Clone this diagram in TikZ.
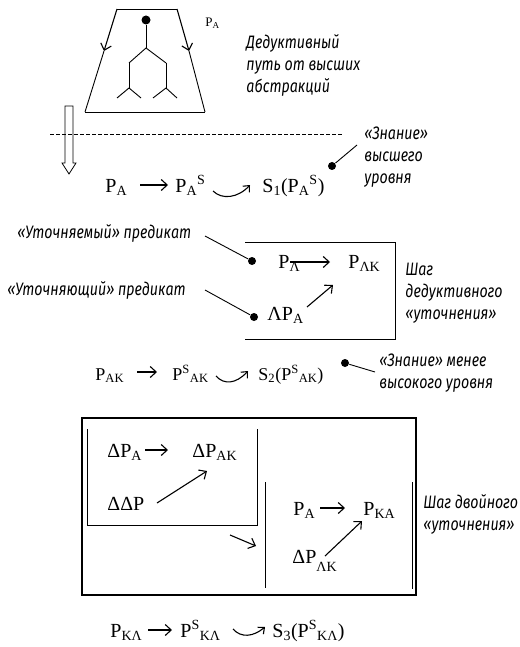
\documentclass[tikz,border=0pt]{standalone}
\usepackage{fontspec}
\setmainfont{Liberation Serif}
\newfontfamily\lblfont[FakeStretch=0.79]{Fira Sans}
\usetikzlibrary{arrows.meta,positioning,calc}
\newcommand{\subx}[1]{\textsubscript{#1}}
\newcommand{\subd}[1]{\raisebox{-5pt}{\textsubscript{#1}}}
\newcommand{\supx}[1]{\textsuperscript{#1}}
\tikzset{
  frm/.style={font=\fontsize{20}{24}\selectfont, inner sep=0pt, anchor=base west},
  frmsm/.style={frm, font=\fontsize{18}{22}\selectfont},
  lbl/.style={font=\lblfont\itshape\fontsize{18}{22}\selectfont, align=left, inner sep=0pt},
  fwd/.style={-{Straight Barb[length=6pt,width=11pt]}, line width=1.1pt},
  curv/.style={-{Straight Barb[length=5pt,width=9pt]}, line width=1.1pt},
  pin/.style={circle, fill, inner sep=0pt, minimum size=8pt},
}

\begin{document}
\begin{tikzpicture}[x=1pt, y=-1pt, line width=0.9pt]
\useasboundingbox (0,0) rectangle (519,647);

% top trapezoid with the tree of abstractions
\draw (117,9) -- (177,9);
\draw (85,112) -- (205,112);
\draw[fwd] (117,9) -- (104,51);
\draw (104,51) -- (85,112);
\draw[fwd] (177,9) -- (189,51);
\draw (189,51) -- (205,112);
\node[pin, minimum size=9pt] (root) at (146,20) {};
\coordinate (fork) at (146,48);
\coordinate (brL) at (129,63); \coordinate (lfL) at (129,88);
\coordinate (brR) at (166,63); \coordinate (lfR) at (166,88);
\draw (root) -- (fork);
\draw (brL) -- (fork) -- (brR);
\draw (brL) -- (lfL) (brR) -- (lfR);
\draw (117,98) -- (lfL) -- (141,98);
\draw (153,98) -- (lfR) -- (177,98);
\node[frm, font=\fontsize{13}{15}\selectfont] (ptop) at (205,27) {P\subx{A}};
\node[lbl, anchor=north west] (ded) at (246,34) {Дедуктивный\\путь от высших\\абстракций};

% hollow arrow and level line
\draw[line width=0.8pt] (65,106) -- (73,106) -- (73,163) -- (76,163) -- (69,174) -- (62,163) -- (65,163) -- cycle;
\draw[dash pattern=on 4pt off 2pt, line width=0.8pt] (50,134) -- (342,134);

% row 1
\node[frm] (pa1) at (105,192) {P\subx{A}};
\node[frm] (pas1) at (175,192) {P\subx{A}\supx{S}};
\node[frm] (s1) at (262,192) {S\subx{1}(P\subx{A}\supx{S})};
\draw[fwd] ([shift={(35pt,7pt)}]pa1.base west) -- ([shift={(-7pt,7pt)}]pas1.base west);
\coordinate (c1a) at (213,191); \coordinate (c1b) at (250,185);
\draw[curv] (c1a) .. controls (222,200) and (238,198) .. (c1b);
\node[pin] (d1) at (332,166) {};
\coordinate (d1e) at (357,145);
\draw (d1) -- (d1e);
\node[lbl, anchor=north west] (kn1) at (364,126) {«Знание»\\высшего\\уровня};

% step of deductive refinement
\node[lbl, anchor=west] (ut1) at (17,233) {«Уточняемый» предикат};
\node[lbl, anchor=west] (ut2) at (7,290) {«Уточняющий» предикат};
\node[pin] (d2) at (252,261) {};
\node[pin] (d3) at (254,317) {};
\coordinate (u1s) at (205,236); \coordinate (u2s) at (205,290);
\draw (u1s) -- (d2);
\draw (u2s) -- (d3);
\draw (245,242) -- (395,242) -- (395,339) -- (245,339);
\node[frm] (pl) at (278,268) {P\subx{Λ}};
\node[frm] (plk) at (348,268) {P\subx{ΛK}};
\node[frm] (dlp) at (267,320) {ΛP\subx{A}};
\draw[fwd] ([shift={(12pt,6pt)}]pl.base west) -- ([shift={(-18pt,6pt)}]plk.base west);
\draw[fwd] ([shift={(40pt,13pt)}]dlp.base west) -- ([shift={(-15pt,-17pt)}]plk.base west);
\node[lbl, anchor=north west] (sh1) at (405,263) {Шаг\\дедуктивного\\«уточнения»};

% row 2
\node[frmsm] (pak) at (95,380) {P\subx{AK}};
\node[frmsm] (pask) at (172,380) {P\supx{S}\subx{AK}};
\node[frmsm] (s2) at (258,380) {S\subx{2}(P\supx{S}\subx{AK})};
\draw[fwd] ([shift={(42pt,8pt)}]pak.base west) -- ([shift={(-15pt,8pt)}]pask.base west);
\coordinate (c2a) at (216,376); \coordinate (c2b) at (248,371);
\draw[curv] (c2a) .. controls (224,385) and (236,384) .. (c2b);
\node[pin] (d4) at (345,363) {};
\coordinate (d4e) at (375,372);
\draw (d4) -- (d4e);
\node[lbl, anchor=north west] (kn2) at (379,353) {«Знание» менее\\высокого уровня};

% step of double refinement
\draw[line width=2.4pt] (82,418) rectangle (416,595);
\draw (87,429) -- (87,525) -- (257,525) -- (257,429);
\draw (265,482) -- (265,588);
\draw (412,482) -- (412,589);
\node[frm] (dpa) at (107,457) {ΔP\subx{A}};
\node[frm] (dpak) at (192,457) {ΔP\subx{AK}};
\node[frm] (ddp) at (107,510) {ΔΔP};
\node[frm] (pa2) at (293,515) {P\subx{A}};
\node[frm] (pka) at (363,515) {P\subx{KA}};
\node[frm] (dplk) at (292,563) {ΔP\subd{ΛK}};
\draw[fwd] ([shift={(38pt,7pt)}]dpa.base west) -- ([shift={(-24pt,7pt)}]dpak.base west);
\draw[fwd] ([shift={(50pt,7pt)}]ddp.base west) -- ([shift={(15pt,-14pt)}]dpak.base west);
\draw[fwd] ([shift={(27pt,7pt)}]pa2.base west) -- ([shift={(-18pt,7pt)}]pka.base west);
\draw[fwd] ([shift={(33pt,7pt)}]dplk.base west) -- ([shift={(-1pt,-6pt)}]pka.base west);
\coordinate (jA) at (230,535); \coordinate (jB) at (256,546);
\draw[fwd] (jA) -- (jB);
\node[lbl, anchor=north west] (sh2) at (423,494) {Шаг двойного\\«уточнения»};

% row 3
\node[frm] (pkl) at (110,637) {P\subx{KΛ}};
\node[frm] (pskl) at (180,637) {P\supx{S}\subx{KΛ}};
\node[frm] (s3) at (272,637) {S\subx{3}(P\supx{S}\subx{KΛ})};
\draw[fwd] ([shift={(38pt,7pt)}]pkl.base west) -- ([shift={(-8pt,7pt)}]pskl.base west);
\coordinate (c3a) at (233,629); \coordinate (c3b) at (265,627);
\draw[curv] (c3a) .. controls (241,638) and (253,637) .. (c3b);
\end{tikzpicture}
\end{document}
